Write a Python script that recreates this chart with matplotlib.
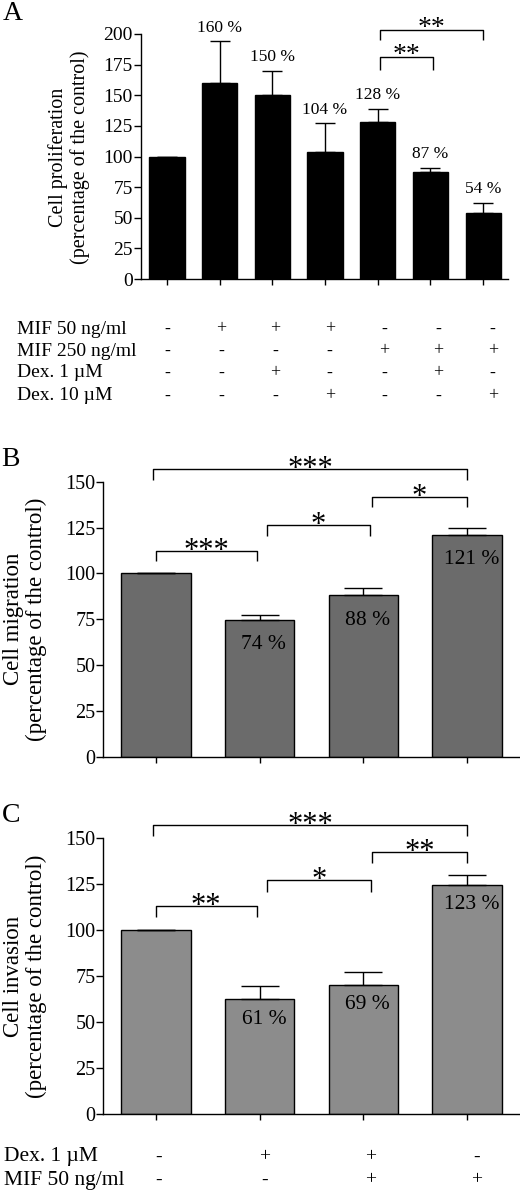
import matplotlib
matplotlib.use('Agg')
import matplotlib.pyplot as plt
import matplotlib.transforms as mtransforms

plt.rcParams['font.family'] = ['Liberation Serif', 'DejaVu Serif']

# ---- Data ----
# Panel A: proliferation
a_values = [100, 160, 150, 104, 128, 87, 54]
a_errors = [0, 34, 20, 23, 11, 4, 8]
a_labels = ['', '160 %', '150 %', '104 %', '128 %', '87 %', '54 %']
a_rows = ['MIF 50 ng/ml', 'MIF 250 ng/ml', 'Dex. 1 \u00b5M', 'Dex. 10 \u00b5M']
a_signs = [
    ['-', '+', '+', '+', '-', '-', '-'],
    ['-', '-', '-', '-', '+', '+', '+'],
    ['-', '-', '+', '-', '-', '+', '-'],
    ['-', '-', '-', '+', '-', '-', '+'],
]
# (x1, x2, top, drop, text)
a_brackets = [(4.05, 5.05, 181, 171, '**'), (4.05, 6.0, 203, 195, '**')]

# Panel B: migration
b_values = [100, 74.5, 88, 121]
b_errors = [0, 2.6, 4, 3.5]
b_labels = ['', '74 %', '88 %', '121 %']
b_brackets = [(-0.03, 3.0, 156.7, 151, '***'), (0.0, 0.97, 112, 106.5, '***'),
              (1.07, 2.06, 126.5, 120.5, '*'), (2.08, 3.0, 141.5, 136, '*')]

# Panel C: invasion
c_values = [100, 62.4, 70.5, 124.6]
c_errors = [0, 7.2, 6.7, 5.6]
c_labels = ['', '61 %', '69 %', '123 %']
c_rows = ['Dex. 1 \u00b5M', 'MIF 50 ng/ml']
c_signs = [['-', '+', '+', '-'], ['-', '-', '+', '+']]
c_brackets = [(-0.03, 3.0, 157.3, 151.3, '***'), (0.0, 0.97, 113, 107.2, '**'),
              (1.07, 2.07, 127.4, 121, '*'), (2.08, 3.0, 142.5, 136.5, '**')]

W, H = 520, 1194
fig = plt.figure(figsize=(W / 100, H / 100), dpi=100)


def px_axes(left, right, top, bottom):
    return fig.add_axes([left / W, 1 - bottom / H, (right - left) / W, (bottom - top) / H])


def style_axes(ax, fs):
    for s in ['top', 'right']:
        ax.spines[s].set_visible(False)
    for s in ['left', 'bottom']:
        ax.spines[s].set_linewidth(1.0)
    ax.tick_params(axis='y', direction='out', length=5, width=1.0, pad=0.5, labelsize=fs)
    ax.tick_params(axis='x', direction='out', length=4, width=1.0, labelbottom=False)


def draw_brackets(ax, brackets, fs, dy):
    for x1, x2, top, drop, txt in brackets:
        ax.plot([x1, x1, x2, x2], [drop, top, top, drop], color='k', lw=1.0,
                clip_on=False, solid_capstyle='butt')
        ax.annotate(txt, xy=((x1 + x2) / 2, top), xytext=(0, dy), textcoords='offset points',
                    ha='center', va='baseline', fontsize=fs, annotation_clip=False)


def draw_bars(ax, values, errors, color, width, capsize):
    x = list(range(len(values)))
    ax.bar(x, values, width=width, color=color, edgecolor='k', linewidth=1.0, zorder=2)
    ax.errorbar(x, values, yerr=[[0] * len(values), errors], fmt='none', ecolor='k',
                elinewidth=1.0, capsize=capsize, capthick=1.0, zorder=3)
    ax.set_xticks(x)
    return x


def ylabel(text, xc, yc, fs, ls):
    fig.text(xc / W, 1 - yc / H, text, rotation=90, ha='center', va='center',
             fontsize=fs, linespacing=ls, multialignment='center')


# ---- Panel A ----
axA = px_axes(140.5, 508, 34, 279)
style_axes(axA, 14)
xa = draw_bars(axA, a_values, a_errors, 'black', 0.67, 7.5)
axA.set_xlim(-0.5, 6.47)
axA.set_ylim(0, 200)
axA.set_yticks(range(0, 201, 25))
ylabel('Cell proliferation\n(percentage of the control)', 69, 157, 14.5, 1.2)
for xi, v, e, lab in zip(xa, a_values, a_errors, a_labels):
    if lab:
        axA.annotate(lab, xy=(xi, v + e), xytext=(0, 7), textcoords='offset points',
                     ha='center', va='baseline', fontsize=12.5, annotation_clip=False)
draw_brackets(axA, a_brackets, 20, -3.2)

trA = mtransforms.blended_transform_factory(axA.transData, fig.transFigure)
row_y_a = [329, 351, 373, 396]
for r, (name, signs) in enumerate(zip(a_rows, a_signs)):
    fig.text(17 / W, 1 - row_y_a[r] / H, name, fontsize=14, va='center', ha='left')
    for i, s in enumerate(signs):
        fig.text(i * 1.03, 1 - row_y_a[r] / H, s, transform=trA, fontsize=13,
                 va='center', ha='center')
fig.text(13 / W, 1 - 14 / H, 'A', fontsize=20, va='center', ha='center')

# ---- Panel B ----
axB = px_axes(103, 519, 481.7, 756.7)
style_axes(axB, 14.5)
xb = draw_bars(axB, b_values, b_errors, '#6b6b6b', 0.67, 14)
axB.set_xlim(-0.51, 3.5)
axB.set_ylim(0, 150)
axB.set_yticks(range(0, 151, 25))
ylabel('Cell migration\n(percentage of the control)', 25, 619, 16.5, 1.13)
for xi, v, lab in zip(xb, b_values, b_labels):
    if lab:
        axB.annotate(lab, xy=(xi, v), xytext=(3, -21), textcoords='offset points',
                     ha='center', va='baseline', fontsize=15.5, zorder=4)
draw_brackets(axB, b_brackets, 22, -5.6)
fig.text(10 / W, 1 - 459 / H, 'B', fontsize=20, va='center', ha='center')

# ---- Panel C ----
axC = px_axes(103, 519, 838.3, 1114.3)
style_axes(axC, 14.5)
xc = draw_bars(axC, c_values, c_errors, '#8c8c8c', 0.67, 14)
axC.set_xlim(-0.51, 3.5)
axC.set_ylim(0, 150)
axC.set_yticks(range(0, 151, 25))
ylabel('Cell invasion\n(percentage of the control)', 25, 976, 16.5, 1.13)
for xi, v, lab in zip(xc, c_values, c_labels):
    if lab:
        axC.annotate(lab, xy=(xi, v), xytext=(3, -17.5), textcoords='offset points',
                     ha='center', va='baseline', fontsize=15.5, zorder=4)
draw_brackets(axC, c_brackets, 22, -5.6)
fig.text(11 / W, 1 - 815 / H, 'C', fontsize=20, va='center', ha='center')

trC = mtransforms.blended_transform_factory(axC.transData, fig.transFigure)
row_y_c = [1157, 1180]
for r, (name, signs) in enumerate(zip(c_rows, c_signs)):
    fig.text(4 / W, 1 - row_y_c[r] / H, name, fontsize=15.5, va='center', ha='left')
    for i, s in enumerate(signs):
        fig.text(i * 1.02 + 0.03, 1 - row_y_c[r] / H, s, transform=trC, fontsize=14,
                 va='center', ha='center')

fig.savefig('out.png', dpi=100)
